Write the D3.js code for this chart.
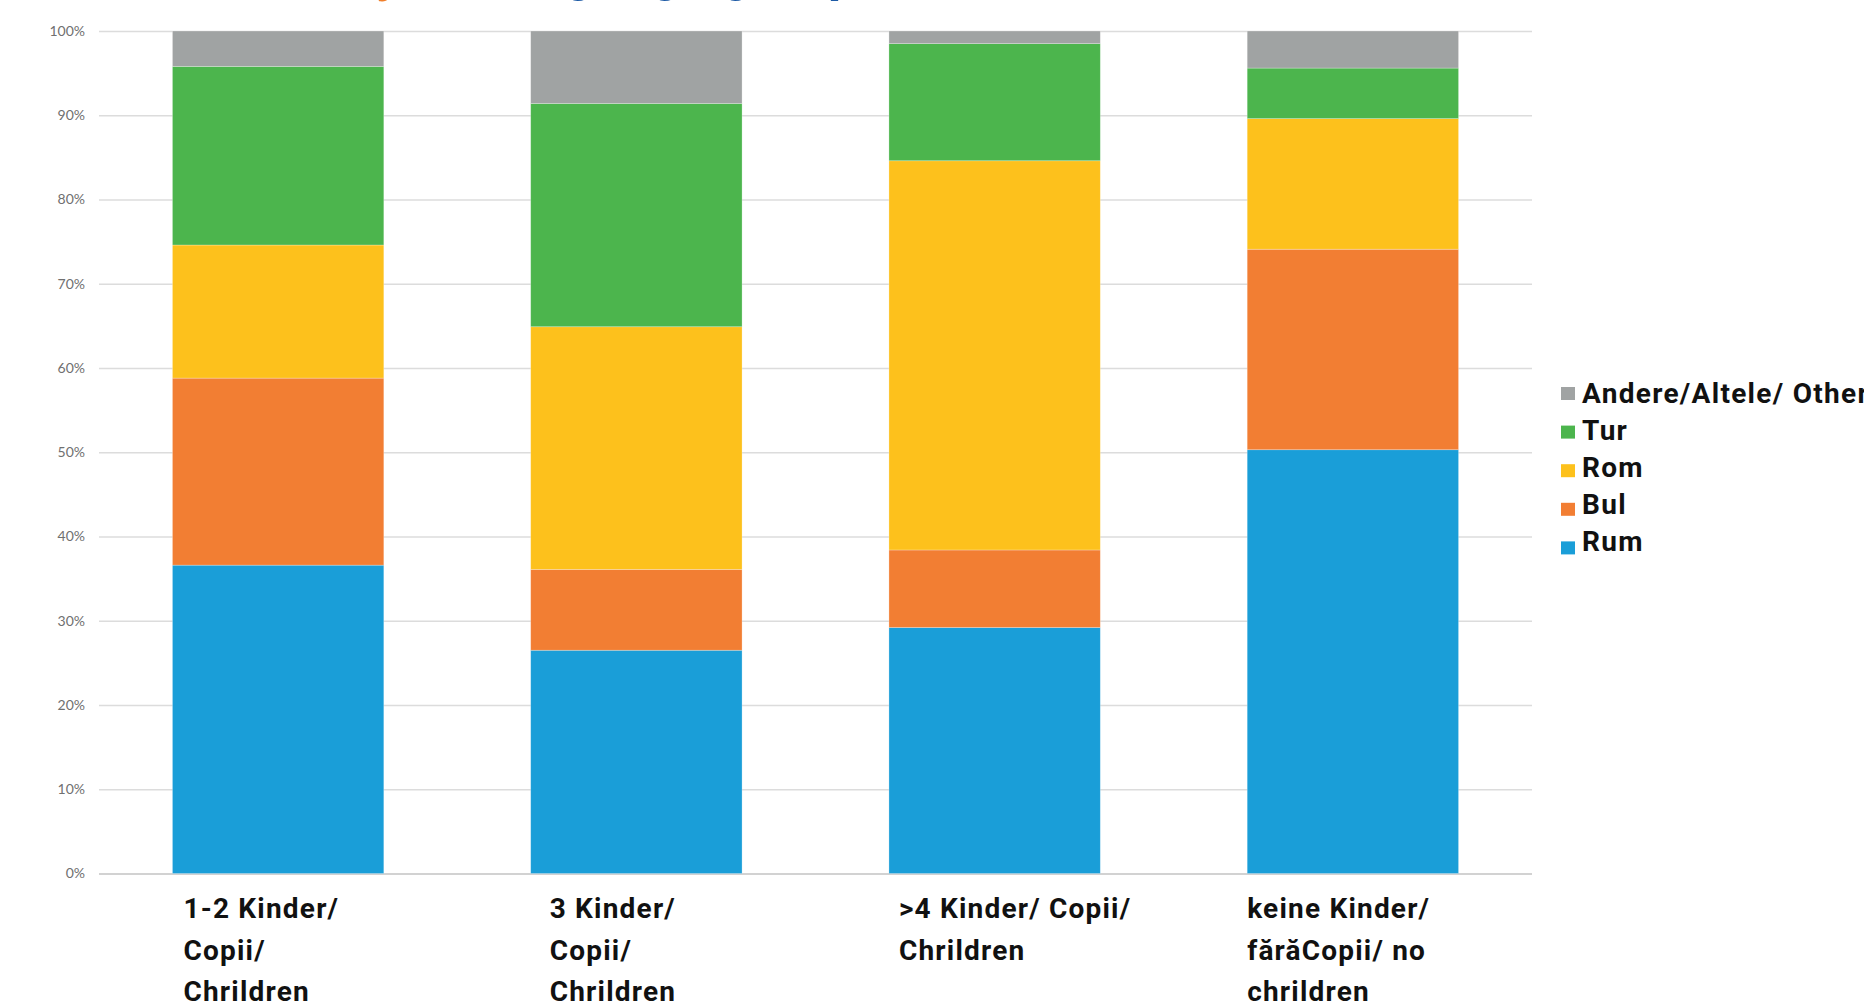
<!DOCTYPE html>
<html>
<head>
<meta charset="utf-8">
<script src="https://cdn.jsdelivr.net/npm/d3@7"></script>
<style>
  html, body { margin: 0; padding: 0; background: #ffffff; overflow: hidden; }
  svg { display: block; }
</style>
</head>
<body>
<svg id="chart" width="1864" height="1006"></svg>
<script>
// Household groups (x categories), each split into label lines
const categories = ["1-2", "3", ">4", "keine"];
const categoryLines = [
  ["1-2 Kinder/", "Copii/", "Chrildren"],
  ["3 Kinder/", "Copii/", "Chrildren"],
  [">4 Kinder/ Copii/", "Chrildren"],
  ["keine Kinder/", "fărăCopii/ no", "chrildren"]
];

// Share of each language group per category, in percent
const rum    = [36.6, 26.5, 29.2, 50.3];
const bul    = [22.2,  9.6,  9.2, 23.8];
const rom    = [15.8, 28.8, 46.2, 15.5];
const tur    = [21.2, 26.5, 13.9,  6.0];
const andere = [ 4.2,  8.6,  1.5,  4.4];

// Series order from bottom to top of each stack
const seriesKeys   = ["Rum", "Bul", "Rom", "Tur", "Andere"];
const seriesLabels = ["Rum", "Bul", "Rom", "Tur", "Andere/Altele/ Other"];
const seriesColors = ["#1a9ed8", "#f27e33", "#fdc11c", "#4cb54d", "#a0a3a3"];

// Y axis tick values (fractions)
const yTicks = [0, 0.1, 0.2, 0.3, 0.4, 0.5, 0.6, 0.7, 0.8, 0.9, 1.0];

// Rows for the stack layout
const rows = categories.map((c, i) => ({
  cat: c, Rum: rum[i], Bul: bul[i], Rom: rom[i], Tur: tur[i], Andere: andere[i]
}));

const svg = d3.select("#chart");

const plot = { left: 99, right: 1532, top: 31, bottom: 873.5 };

// Label text boxes are nudged individually from the left edge of each bar
const labelNudge = [11, 19, 10, 0];

const x = d3.scaleBand()
  .domain(categories)
  .range([plot.left, plot.right])
  .paddingInner(0.41)
  .paddingOuter(0.205);

const y = d3.scaleLinear()
  .domain([0, 100])
  .range([plot.bottom, plot.top]);

// Title line sitting above the top edge
const title = svg.append("g")
  .attr("font-family", "Roboto, 'Noto Sans', sans-serif")
  .attr("font-weight", 700)
  .attr("font-size", 52);
title.append("text")
  .attr("x", 402).attr("y", -10)
  .attr("text-anchor", "end")
  .attr("fill", "#f07f2b")
  .text("Number of children by");
title.append("text")
  .attr("x", 479).attr("y", -10)
  .attr("fill", "#1d5aa5")
  .text("Language group");

// Gridlines and percentage labels
const yAxis = d3.axisLeft(y)
  .tickValues(yTicks.map(t => t * 100))
  .tickFormat(d => d3.format(".0%")(d / 100))
  .tickSize(-(plot.right - plot.left))
  .tickPadding(14);

const gy = svg.append("g")
  .attr("transform", `translate(${plot.left},0)`)
  .call(yAxis);
gy.select(".domain").remove();
gy.selectAll(".tick line")
  .attr("stroke", "#dcdcdc")
  .attr("stroke-width", 1.5);
gy.selectAll(".tick")
  .filter(d => d === 0)
  .select("line")
  .attr("stroke", "#d2d2d2")
  .attr("stroke-width", 2);
gy.selectAll(".tick text")
  .attr("fill", "#707070")
  .attr("font-family", "Lato, 'Open Sans', sans-serif")
  .attr("font-size", 14);

// Stacked bars
const stacked = d3.stack().keys(seriesKeys)(rows);

svg.append("g")
  .selectAll("g")
  .data(stacked)
  .join("g")
    .attr("fill", (d, i) => seriesColors[i])
  .selectAll("rect")
  .data(d => d)
  .join("rect")
    .attr("x", d => x(d.data.cat))
    .attr("width", x.bandwidth())
    .attr("y", d => y(d[1]))
    .attr("height", d => y(d[0]) - y(d[1]))
    .attr("stroke", "#ffffff")
    .attr("stroke-opacity", 0.35)
    .attr("stroke-width", 0.75);

// Category labels below the bars
const xl = svg.append("g")
  .attr("font-family", "Roboto, 'Noto Sans', sans-serif")
  .attr("font-weight", 700)
  .attr("font-size", 28)
  .attr("letter-spacing", 1.2)
  .attr("fill", "#111111");

xl.selectAll("text")
  .data(categories)
  .join("text")
    .attr("x", (d, i) => x(d) + labelNudge[i])
    .attr("y", 918)
  .selectAll("tspan")
  .data((d, i) => categoryLines[i])
  .join("tspan")
    .attr("x", function () { return d3.select(this.parentNode).attr("x"); })
    .attr("y", (d, j) => 918 + j * 41.5)
    .text(d => d);

// Legend, top entry is the top series; swatches and text lines
// follow slightly different pitches
const legendOrder = d3.range(seriesKeys.length).reverse();
const legend = svg.append("g")
  .attr("font-family", "Roboto, 'Noto Sans', sans-serif")
  .attr("font-weight", 700)
  .attr("font-size", 28)
  .attr("letter-spacing", 1.3)
  .attr("fill", "#111111");

legend.selectAll("rect")
  .data(legendOrder)
  .join("rect")
    .attr("x", 1561)
    .attr("y", (d, k) => 387 + k * 38.6)
    .attr("width", 14).attr("height", 13)
    .attr("fill", d => seriesColors[d]);
legend.selectAll("text")
  .data(legendOrder)
  .join("text")
    .attr("x", 1582)
    .attr("y", (d, k) => 402.5 + k * 37.1)
    .text(d => seriesLabels[d]);
</script>
</body>
</html>
